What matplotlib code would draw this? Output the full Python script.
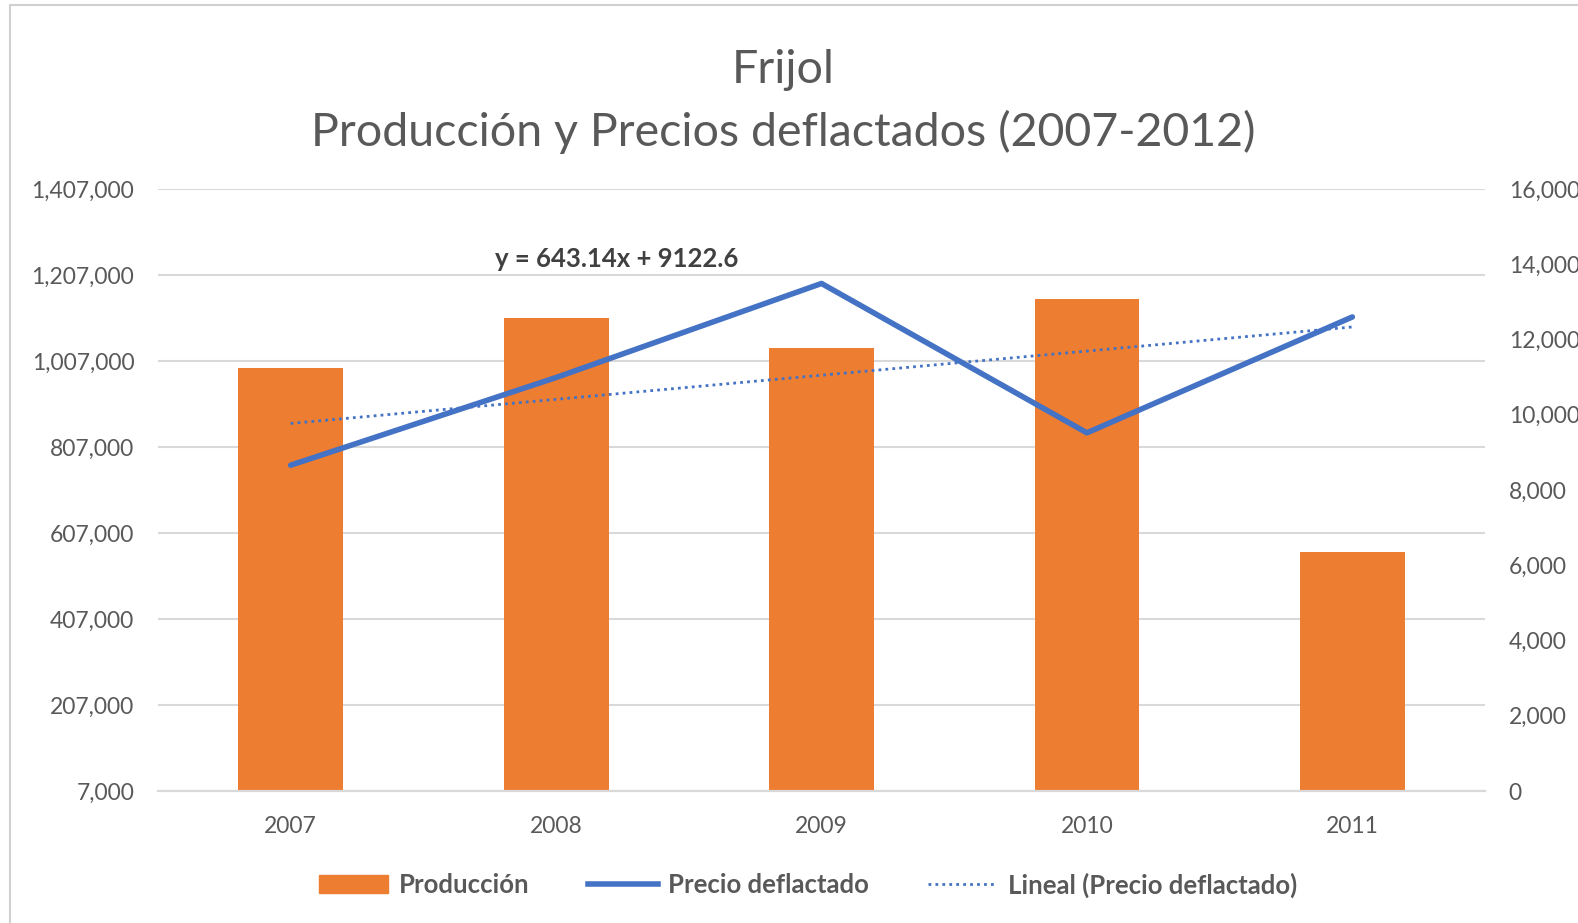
import numpy as np
import matplotlib
matplotlib.use('Agg')
from matplotlib import pyplot as plt
from matplotlib.patches import Patch, Rectangle
from matplotlib.lines import Line2D

plt.rcParams['font.family'] = ['Lato', 'DejaVu Sans']

# data
years = ['2007', '2008', '2009', '2010', '2011']
produccion = [990000, 1107000, 1037000, 1152000, 562000]
precio = [8660, 10990, 13490, 9520, 12600]
left_ticks = [7000, 207000, 407000, 607000, 807000, 1007000, 1207000, 1407000]
right_ticks = [0, 2000, 4000, 6000, 8000, 10000, 12000, 14000, 16000]
equation = 'y = 643.14x + 9122.6'

orange = '#ED7D31'
blue = '#4472C4'
grey_text = '#595959'
grid_col = '#D9D9D9'

fig = plt.figure(figsize=(15.78, 9.23), dpi=100)
fig.patches.append(Rectangle((10 / 1578, -0.1), 1.2, 1.1 - 5 / 923,
                             transform=fig.transFigure, fill=False,
                             edgecolor='#D0D0D0', linewidth=1.5))

ax = fig.add_axes([0.1001, 0.143, 0.841, 0.6522])
ax2 = ax.twinx()

x = np.arange(len(years))
ax.bar(x, produccion, width=0.395, color=orange, zorder=2)
ax.set_xlim(-0.5, len(years) - 0.5)
ax.set_ylim(left_ticks[0], left_ticks[-1])
ax.set_yticks(left_ticks)
ax.set_yticklabels(['{:,}'.format(v) for v in left_ticks])
ax.set_xticks(x)
ax.set_xticklabels(years)
ax.grid(axis='y', color=grid_col, linewidth=1.5, zorder=0)
ax.set_axisbelow(True)

# price line and linear trend (excel style, x = 1..n)
ax2.plot(x, precio, color=blue, linewidth=4, solid_capstyle='round', zorder=4)
coef = np.polyfit(x + 1, precio, 1)
ax2.plot(x, np.polyval(coef, x + 1), color=blue, linewidth=2,
         linestyle=(0, (1, 1.5)), zorder=3)
ax2.set_ylim(right_ticks[0], right_ticks[-1])
ax2.set_yticks(right_ticks)
ax2.set_yticklabels(['{:,}'.format(v) for v in right_ticks])
ax2.text(1.23, 14150, equation, ha='center', va='center', fontsize=18.5,
         fontweight='bold', color='#404040')

for a in (ax, ax2):
    for s in ('top', 'left', 'right'):
        a.spines[s].set_visible(False)
    a.spines['bottom'].set_color(grid_col)
    a.spines['bottom'].set_linewidth(1.5)
    a.tick_params(length=0, colors=grey_text, labelsize=16.5)
ax.tick_params(axis='y', pad=17)
ax.tick_params(axis='x', pad=18)
ax2.tick_params(axis='y', pad=17)

fig.text(0.4965, 1 - 70 / 923, 'Frijol', ha='center', va='center',
         fontsize=33.5, color=grey_text)
fig.text(0.4965, 1 - 132 / 923, 'Producción y Precios deflactados (2007-2012)',
         ha='center', va='center', fontsize=33.5, color=grey_text)

handles = [Patch(color=orange),
           Line2D([], [], color=blue, linewidth=4),
           Line2D([], [], color=blue, linewidth=2, linestyle=(0, (1, 1.5)))]
labels = ['Producción', 'Precio deflactado', 'Lineal (Precio deflactado)']
leg = fig.legend(handles, labels, loc='center', ncol=3,
                 bbox_to_anchor=(0.512, 1 - 885 / 923), frameon=False,
                 fontsize=18.5, handlelength=2.7, columnspacing=2.3,
                 handletextpad=0.4)
for t in leg.get_texts():
    t.set_color(grey_text)
    t.set_fontweight('bold')

fig.savefig('out.png', dpi=100)
